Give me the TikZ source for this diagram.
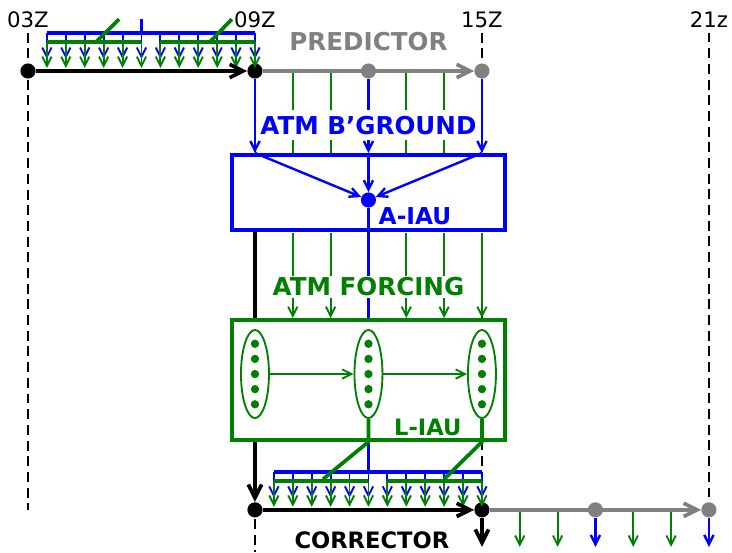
\documentclass[tikz,border=0pt]{standalone}
\usepackage{fontspec}
\setmainfont{DejaVu Sans}
\usetikzlibrary{shapes.geometric,arrows.meta}
\definecolor{iaugreen}{RGB}{0,128,0}
\definecolor{iaugray}{RGB}{128,128,128}
\tikzset{
  tdot/.style={circle,fill,inner sep=0pt,minimum size=0.4cm},
  edot/.style={circle,fill=iaugreen,inner sep=0pt,minimum size=0.22cm},
  thk/.style={line width=2.8pt},
  thn/.style={line width=1.4pt},
  barr/.style={blue,line width=1.8pt},
  ga/.style={-{Straight Barb[length=7pt,width=7pt]}},
  ka/.style={-{Straight Barb[length=10pt,width=10pt]}},
  tdash/.style={line width=1.8pt,dash pattern=on 7.5pt off 4.3pt},
  iaubox/.style={line width=3pt,fill=white,minimum width=7.2cm,inner sep=0pt},
  ell/.style={ellipse,draw=iaugreen,line width=1.4pt,fill=white,minimum width=0.74cm,minimum height=2.33cm,inner sep=0pt},
  hlbl/.style={font=\fontsize{16}{19}\selectfont},
  blbl/.style={font=\fontsize{18.5}{22}\selectfont\bfseries},
}
\begin{document}
\begin{tikzpicture}
\useasboundingbox (-0.74,-12.715) rectangle (18.61,1.877);
% hours and guides
\node[hlbl] (l03) at (0,1.35) {03Z};
\node[hlbl] (l09) at (6,1.35) {09Z};
\node[hlbl] (l15) at (12,1.35) {15Z};
\node[hlbl] (l21) at (18,1.35) {21z};
\coordinate (g03) at (0,-11.6);
\coordinate (g09) at (6,-12.715);
\coordinate (g15) at (12,-11.6);
\coordinate (g21) at (18,-11.6);
\foreach \h in {03,09,15,21}
  \draw[tdash] (l\h.south) -- (g\h);
% timeline dots
\node[tdot] (a03) at (0,0) {};
\node[tdot] (a09) at (6,0) {};
\node[tdot,iaugray] (a12) at (9,0) {};
\node[tdot,iaugray] (a15) at (12,0) {};
\node[tdot] (b09) at (6,-11.6) {};
\node[tdot] (b15) at (12,-11.6) {};
\node[tdot,iaugray] (b18) at (15,-11.6) {};
\node[tdot,iaugray] (b21) at (18,-11.6) {};
\node[blbl,iaugray] (lpred) at (9,0.77) {PREDICTOR};
\node[blbl,font=\fontsize{17}{20}\selectfont\bfseries] (lcor) at (9.09,-12.4) {CORRECTOR};
% A-IAU
\node[iaubox,draw=blue,minimum height=1.98cm] (aiau) at (9,-3.21) {};
\node[tdot,blue] (adot) at (9,-3.41) {};
\node[blbl,blue,font=\fontsize{17.5}{20}\selectfont\bfseries] (laiau) at (10.23,-3.83) {A-IAU};
\foreach \h in {7,8,10,11}
  \draw[thn,iaugreen] (\h,0) -- (\h,-2.18);
\foreach \t in {a09,a12,a15} {
  \draw[barr,ga] (\t) -- (\t |- aiau.north);
  \draw[barr,ga] (\t |- aiau.north) -- (adot);
}
\node[blbl,blue,fill=white,inner xsep=1pt,inner ysep=4.5pt] (lbg) at (9,-1.43) {ATM B'GROUND};
% down to the corrector
\coordinate (bstub) at (9,-10.6);
\draw[thk,ka] (aiau.south -| a09) -- (b09);
\draw[thk,blue] (adot) -- (bstub);
\foreach \h in {7,8,10,11,12}
  \draw[thn,iaugreen,ga] (\h,-4.27) -- (\h,-6.53);
\node[blbl,iaugreen,fill=white,inner xsep=1pt,inner ysep=1.5pt] (lfc) at (9,-5.71) {ATM FORCING};
% L-IAU
\node[iaubox,draw=iaugreen,minimum height=3.17cm] (liau) at (9,-8.165) {};
\node[ell] (e1) at (6,-8.01) {};
\node[ell] (e2) at (9,-8.01) {};
\node[ell] (e3) at (12,-8.01) {};
\foreach \h in {6,9,12}
  \foreach \k in {1,...,5}
    \node[edot] (p\h\k) at (\h,{-8.01+0.4*(3-\k)}) {};
\draw[thn,iaugreen,ga] (e1) -- (e2);
\draw[thn,iaugreen,ga] (e2) -- (e3);
\node[blbl,iaugreen,font=\fontsize{17}{20}\selectfont\bfseries] (lliau) at (10.57,-9.41) {L-IAU};
% increments
\foreach \ox/\oy in {0/0,6/-11.6} {
  \begin{scope}[shift={(\ox,\oy)}]
    \draw[thk,blue] (0.5,1) -- (6,1);
    \foreach \i in {1,...,12} {
      \draw[thn,blue,ga] ({\i/2},1) -- ({\i/2},0.32);
      \draw[thn,iaugreen,ga] ({\i/2},0.77) -- ({\i/2},0.08);
    }
    \draw[thk,iaugreen] (0.5,0.77) -- (3,0.77);
    \draw[thk,iaugreen] (3.5,0.77) -- (6,0.77);
  \end{scope}
}
\coordinate (m1) at (7.8,-10.79);
\coordinate (m2) at (11.0,-10.79);
\coordinate (m3) at (2.41,1.37);
\coordinate (m4) at (5.39,1.37);
\draw[thk,blue] (3,1) -- (3,1.37);
\draw[thk,iaugreen] (1.8,0.77) -- (m3);
\draw[thk,iaugreen] (4.81,0.77) -- (m4);
\draw[thk,iaugreen] (e2.south) -- (liau.south -| e2) -- (m1);
\draw[thk,iaugreen] (e3.south) -- (liau.south -| e3) -- (m2);
% timelines
\coordinate (f15) at (12,-12.58);
\coordinate (f18) at (15,-12.58);
\coordinate (f21) at (18,-12.58);
\foreach \h in {13,14,16,17}
  \draw[thn,iaugreen,ga] (\h,-11.6) -- (\h,-12.58);
\draw[barr,ga] (b18) -- (f18);
\draw[barr,ga] (b21) -- (f21);
\draw[thk,ka] (b15) -- (f15);
\draw[thk,ka] (a03) -- (a09);
\draw[thk,iaugray,ka] (a09) -- (a15);
\draw[thk,ka] (b09) -- (b15);
\draw[thk,iaugray,ka] (b15) -- (b21);
\end{tikzpicture}
\end{document}
